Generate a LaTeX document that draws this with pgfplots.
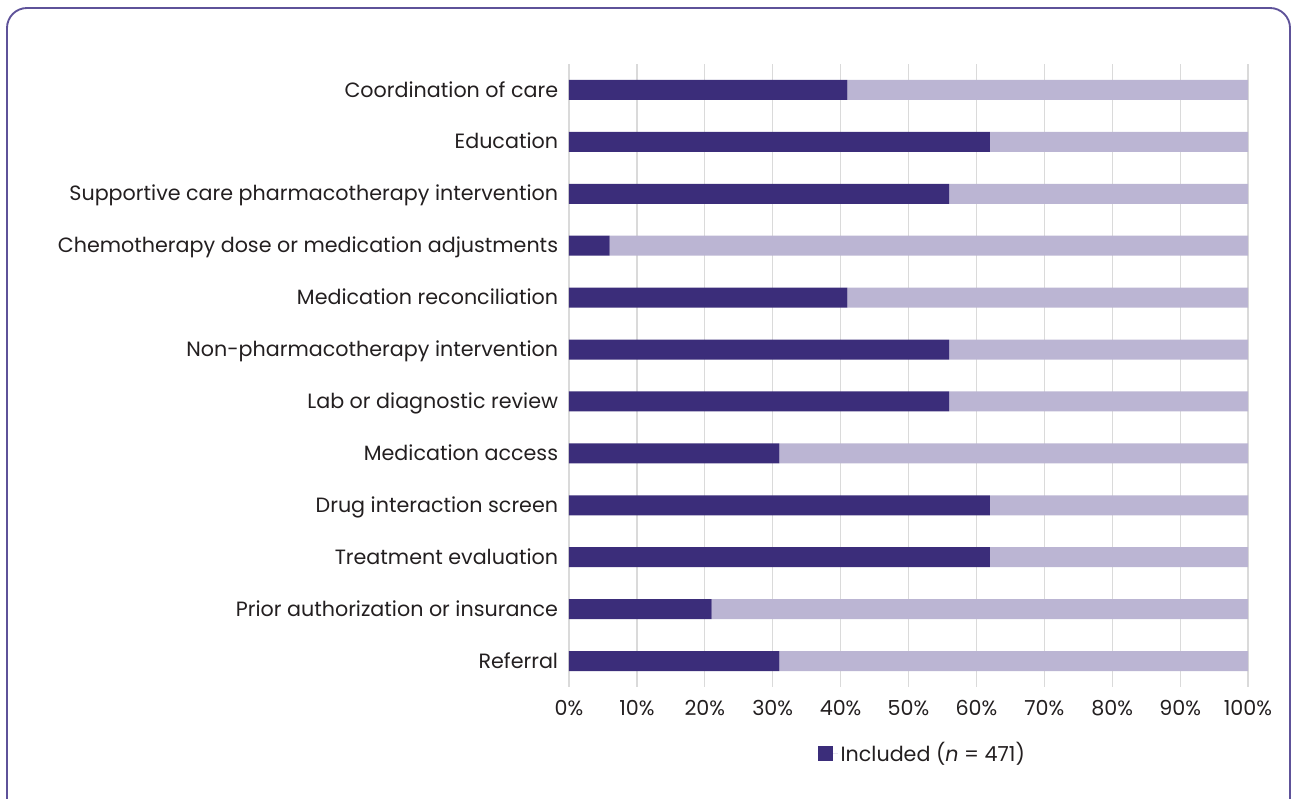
\documentclass[border=0pt]{standalone}
\usepackage{fontspec}
\setmainfont{Poppins}
\usepackage{pgfplots}
\pgfplotsset{compat=1.18}
\definecolor{dark}{HTML}{3B2D7A}
\definecolor{light}{HTML}{BBB5D3}
\definecolor{framec}{HTML}{5E5299}
\definecolor{txt}{HTML}{231F20}
\definecolor{gridc}{HTML}{DADADA}
\begin{document}
\begin{tikzpicture}
\clip (0,0) rectangle (972pt,599.25pt);
\draw[framec, line width=1.4pt, rounded corners=15pt] (5.25pt,-20pt) rectangle (967.5pt,593.25pt);
\begin{axis}[
  at={(426.75pt,84pt)}, anchor=south west,
  scale only axis, width=509.25pt, height=467.25pt,
  xbar stacked, bar width=15pt,
  xmin=0, xmax=100, ymin=-0.5, ymax=11.5,
  ytick={0,...,11},
  yticklabels={Referral,Prior authorization or insurance,Treatment evaluation,Drug interaction screen,Medication access,Lab or diagnostic review,Non-pharmacotherapy intervention,Medication reconciliation,Chemotherapy dose or medication adjustments,Supportive care pharmacotherapy intervention,Education,Coordination of care},
  xtick={0,10,...,100},
  xticklabels={0\%,10\%,20\%,30\%,40\%,50\%,60\%,70\%,80\%,90\%,100\%},
  axis line style={draw=none},
  major tick length=0pt,
  xmajorgrids, grid style={gridc, line width=0.9pt},
  tick label style={font=\fontsize{15.5}{18}\selectfont, text=txt},
  yticklabel style={anchor=east, inner sep=0pt, xshift=-8pt, yshift=-1.8pt, text height=0.7em, text depth=0pt},
  xticklabel style={anchor=north, inner sep=0pt, yshift=-10pt},
  /pgf/number format/assume math mode=true,
  legend style={at={(0.521,-0.106)}, anchor=center, draw=none, fill=none,
    font=\fontsize{15.5}{18}\selectfont, text=txt},
  legend image code/.code={\path (0pt,0pt) -- (15pt,0pt); \fill[#1] (0pt,-5.6pt) rectangle (11.25pt,5.6pt);},
]
\addplot[fill=dark, draw=none] coordinates {(31,0) (21,1) (62,2) (62,3) (31,4) (56,5) (56,6) (41,7) (6,8) (56,9) (62,10) (41,11)};
\addlegendentry{Included (\textit{n} = 471)}
\addplot[fill=light, draw=none] coordinates {(69,0) (79,1) (38,2) (38,3) (69,4) (44,5) (44,6) (59,7) (94,8) (44,9) (38,10) (59,11)};
\end{axis}
\end{tikzpicture}
\end{document}
